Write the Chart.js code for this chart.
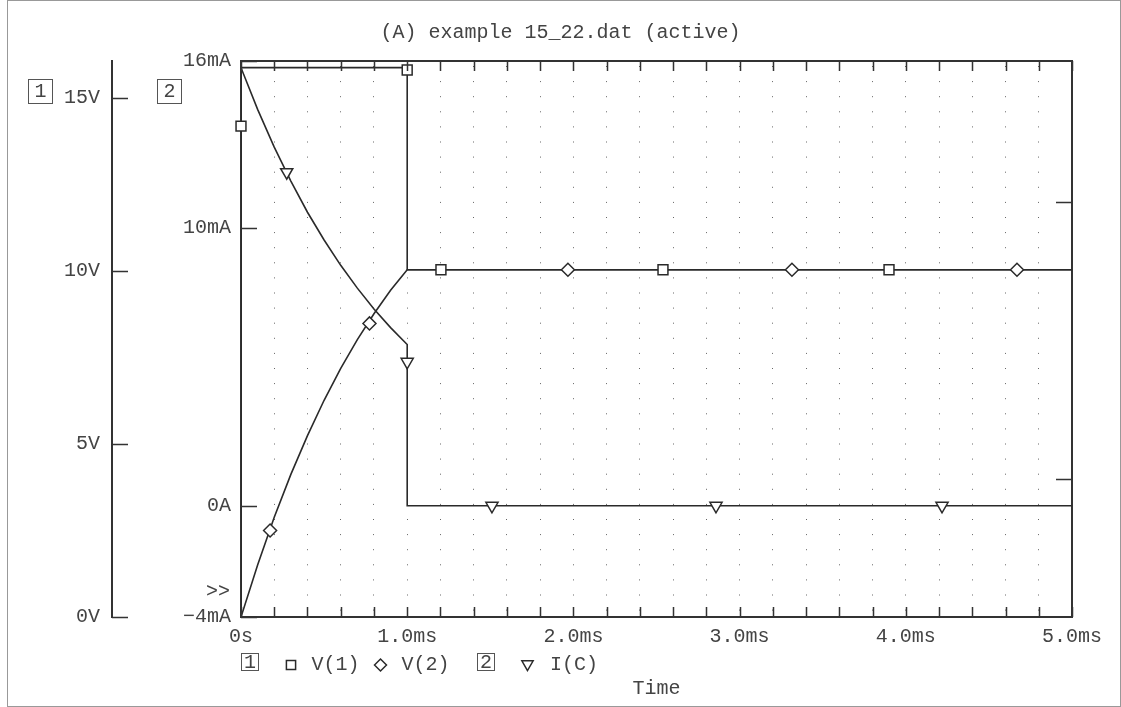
<!DOCTYPE html>
<html>
<head>
<meta charset="utf-8">
<title>example 15_22</title>
<script src="https://cdn.jsdelivr.net/npm/chart.js@4.4.1/dist/chart.umd.min.js"></script>
<style>
    html, body { margin: 0; padding: 0; background: #fff; }
    #wrap { width: 1121px; height: 707px; position: relative; }
</style>
</head>
<body>
<div id="wrap"><canvas id="plotCanvas"></canvas></div>
<script>
// time in ms, voltages in V, current in mA
const timeV1 = [0, 0, 1.0, 1.0, 5.0];
const valuesV1 = [0, 15.87, 15.87, 10.03, 10.03];

const timeV2 = [0, 0.1, 0.2, 0.3, 0.4, 0.5, 0.6, 0.7, 0.8, 0.9, 1.0, 5.0];
const valuesV2 = [0, 1.50, 2.88, 4.12, 5.24, 6.26, 7.18, 8.01, 8.76, 9.44, 10.03, 10.03];

const timeIC = [0, 0.1, 0.2, 0.3, 0.4, 0.5, 0.6, 0.7, 0.8, 0.9, 1.0, 1.0, 5.0];
const valuesIC = [15.76, 14.26, 12.90, 11.68, 10.56, 9.56, 8.65, 7.83, 7.08, 6.41, 5.80, 0, 0];

// trace markers
const markV1T = [0, 1.0, 1.203, 2.539, 3.899];
const markV1Y = [14.18, 15.8, 10.03, 10.03, 10.03];
const markV2T = [0.175, 0.773, 1.967, 3.315, 4.669];
const markV2Y = [2.5, 8.48, 10.03, 10.03, 10.03];
const markICT = [0.275, 1.0, 1.51, 2.858, 4.218];
const markICY = [12.0, 5.18, 0, 0, 0];

const xTickLabels = ["0s", "1.0ms", "2.0ms", "3.0ms", "4.0ms", "5.0ms"];
const y1TickValues = [0, 5, 10, 15];
const y1TickLabels = ["0V", "5V", "10V", "15V"];
const y2TickValues = [-4, 0, 10, 16];
const y2TickLabels = ["\u22124mA", "0A", "10mA", "16mA"];
const yRTickValues = [4, 12];
const legendLabels = ["V(1)", "V(2)", "I(C)"];
const titleText = "(A) example 15_22.dat (active)";

const monoFont = "'Liberation Mono', 'DejaVu Sans Mono', monospace";
const inkColor = "#2a2a2a";
const textColor = "#444";

Chart.defaults.font.family = monoFont;
Chart.defaults.font.size = 20;
Chart.defaults.color = textColor;

function toPoints(xs, ys) {
    return xs.map((x, i) => ({ x: x, y: ys[i] }));
}

function traceSet(xs, ys, axis) {
    return {
        data: toPoints(xs, ys),
        yAxisID: axis,
        showLine: true,
        borderColor: inkColor,
        borderWidth: 1.6,
        pointRadius: 0,
        tension: 0,
        order: 2
    };
}

function markerSet(xs, ys, axis, style, radius, rotation) {
    return {
        data: toPoints(xs, ys),
        yAxisID: axis,
        showLine: false,
        pointStyle: style,
        pointRadius: radius,
        pointRotation: rotation || 0,
        pointBorderColor: inkColor,
        pointBackgroundColor: "#fff",
        pointBorderWidth: 1.5,
        clip: false,
        order: 1
    };
}

// decorations PSpice draws around the plot: inward ticks, boxed axis numbers, legend
const probeDecor = {
    id: "probeDecor",
    afterDraw(chart) {
        const ctx = chart.ctx;
        const area = chart.chartArea;
        const sx = chart.scales.x;
        const s1 = chart.scales.y1;
        const s2 = chart.scales.y2;
        const sr = chart.scales.yR;

        ctx.save();
        ctx.strokeStyle = "#333";
        ctx.lineWidth = 2;
        ctx.beginPath();
        ctx.moveTo(area.left - 1, area.top);
        ctx.lineTo(area.right + 1, area.top);
        ctx.stroke();

        ctx.lineWidth = 1.5;
        ctx.beginPath();
        sx.ticks.forEach(t => {
            const px = Math.round(sx.getPixelForValue(t.value)) + 0.5;
            ctx.moveTo(px, area.top);
            ctx.lineTo(px, area.top + 10);
            ctx.moveTo(px, area.bottom);
            ctx.lineTo(px, area.bottom - 10);
        });
        s2.ticks.forEach(t => {
            const py = Math.round(s2.getPixelForValue(t.value)) + 0.5;
            ctx.moveTo(area.left, py);
            ctx.lineTo(area.left + 16, py);
        });
        s1.ticks.forEach(t => {
            const py = Math.round(s1.getPixelForValue(t.value)) + 0.5;
            ctx.moveTo(s1.right, py);
            ctx.lineTo(s1.right + 16, py);
        });
        sr.ticks.forEach(t => {
            const py = Math.round(sr.getPixelForValue(t.value)) + 0.5;
            ctx.moveTo(area.right - 16, py);
            ctx.lineTo(area.right, py);
        });
        ctx.stroke();

        // boxed axis numbers
        ctx.font = "20px " + monoFont;
        ctx.fillStyle = textColor;
        ctx.textAlign = "center";
        ctx.textBaseline = "middle";
        ctx.strokeStyle = "#555";
        ctx.lineWidth = 1;
        ctx.strokeRect(28.5, 79.5, 24, 24);
        ctx.fillText("1", 40.5, 92);
        ctx.strokeRect(157.5, 79.5, 24, 24);
        ctx.fillText("2", 169.5, 92);
        ctx.fillText(">>", 218, 592);

        // legend row
        const ly = 665;
        ctx.strokeRect(241.5, 653.5, 17, 17);
        ctx.fillText("1", 250, 662.5);
        ctx.strokeRect(477.5, 653.5, 17, 17);
        ctx.fillText("2", 486, 662.5);
        ctx.textAlign = "left";
        ctx.fillText(legendLabels[0], 311.5, ly);
        ctx.fillText(legendLabels[1], 401.5, ly);
        ctx.fillText(legendLabels[2], 550, ly);

        ctx.strokeStyle = inkColor;
        ctx.fillStyle = "#fff";
        ctx.lineWidth = 1.5;
        const symbols = [["rect", 291, 6.5, 0], ["rectRot", 380.5, 6, 0], ["triangle", 527.5, 6.5, 180]];
        symbols.forEach(s => {
            Chart.helpers.drawPoint(ctx, { pointStyle: s[0], radius: s[2], rotation: s[3], borderWidth: 1.5 }, s[1], s[0] === "triangle" ? ly - 1 : ly);
        });

        // page frame
        ctx.strokeStyle = "#999";
        ctx.lineWidth = 1;
        ctx.strokeRect(7.5, 0.5, 1113, 706);
        ctx.restore();
    }
};

const canvas = document.getElementById("plotCanvas");
new Chart(canvas, {
    type: "scatter",
    data: {
        datasets: [
            markerSet(markV1T, markV1Y, "y1", "rect", 7),
            markerSet(markV2T, markV2Y, "y1", "rectRot", 6.5),
            markerSet(markICT, markICY, "y2", "triangle", 7, 180),
            traceSet(timeV1, valuesV1, "y1"),
            traceSet(timeV2, valuesV2, "y1"),
            traceSet(timeIC, valuesIC, "y2")
        ]
    },
    options: {
        responsive: true,
        maintainAspectRatio: false,
        animation: false,
        devicePixelRatio: 1,
        layout: { padding: 0 },
        plugins: {
            legend: { display: false },
            tooltip: { enabled: false },
            title: {
                display: true,
                text: titleText,
                color: textColor,
                font: { family: monoFont, size: 20, weight: "normal" },
                padding: { top: 21, bottom: 16 }
            }
        },
        scales: {
            x: {
                type: "linear",
                position: "bottom",
                min: 0,
                max: 5,
                ticks: {
                    stepSize: 0.2,
                    autoSkip: false,
                    maxRotation: 0,
                    padding: 8,
                    callback: function (value) {
                        const k = Math.round(value);
                        return Math.abs(value - k) < 1e-6 ? xTickLabels[k] : "";
                    }
                },
                grid: { display: true, color: "#666", lineWidth: 1, drawTicks: false },
                border: { display: true, color: "#333", width: 2, dash: [1, 14.1], dashOffset: 10.1 },
                title: { display: true, text: "Time", padding: { top: 0, bottom: 6 } },
                afterFit: function (scale) { scale.height = 90; }
            },
            y1: {
                type: "linear",
                position: "left",
                weight: 10,
                min: 0,
                max: 16.06,
                afterBuildTicks: function (scale) { scale.ticks = y1TickValues.map(v => ({ value: v })); },
                ticks: {
                    padding: 12,
                    callback: function (value, index) { return y1TickLabels[index]; }
                },
                grid: { display: false, drawTicks: false },
                border: { display: true, color: "#333", width: 2 },
                afterFit: function (scale) { scale.width = 112; }
            },
            y2: {
                type: "linear",
                position: "left",
                weight: 0,
                min: -4,
                max: 16,
                afterBuildTicks: function (scale) { scale.ticks = y2TickValues.map(v => ({ value: v })); },
                ticks: {
                    padding: 10,
                    callback: function (value, index) { return y2TickLabels[index]; }
                },
                grid: { display: false, drawTicks: false },
                border: { display: true, color: "#333", width: 2 },
                afterFit: function (scale) { scale.width = 129; }
            },
            yR: {
                type: "linear",
                position: "right",
                min: 0,
                max: 16.06,
                afterBuildTicks: function (scale) { scale.ticks = yRTickValues.map(v => ({ value: v })); },
                ticks: { display: false },
                grid: { display: false, drawTicks: false },
                border: { display: true, color: "#333", width: 2 },
                afterFit: function (scale) { scale.width = 49; }
            }
        }
    },
    plugins: [probeDecor]
});
</script>
</body>
</html>
